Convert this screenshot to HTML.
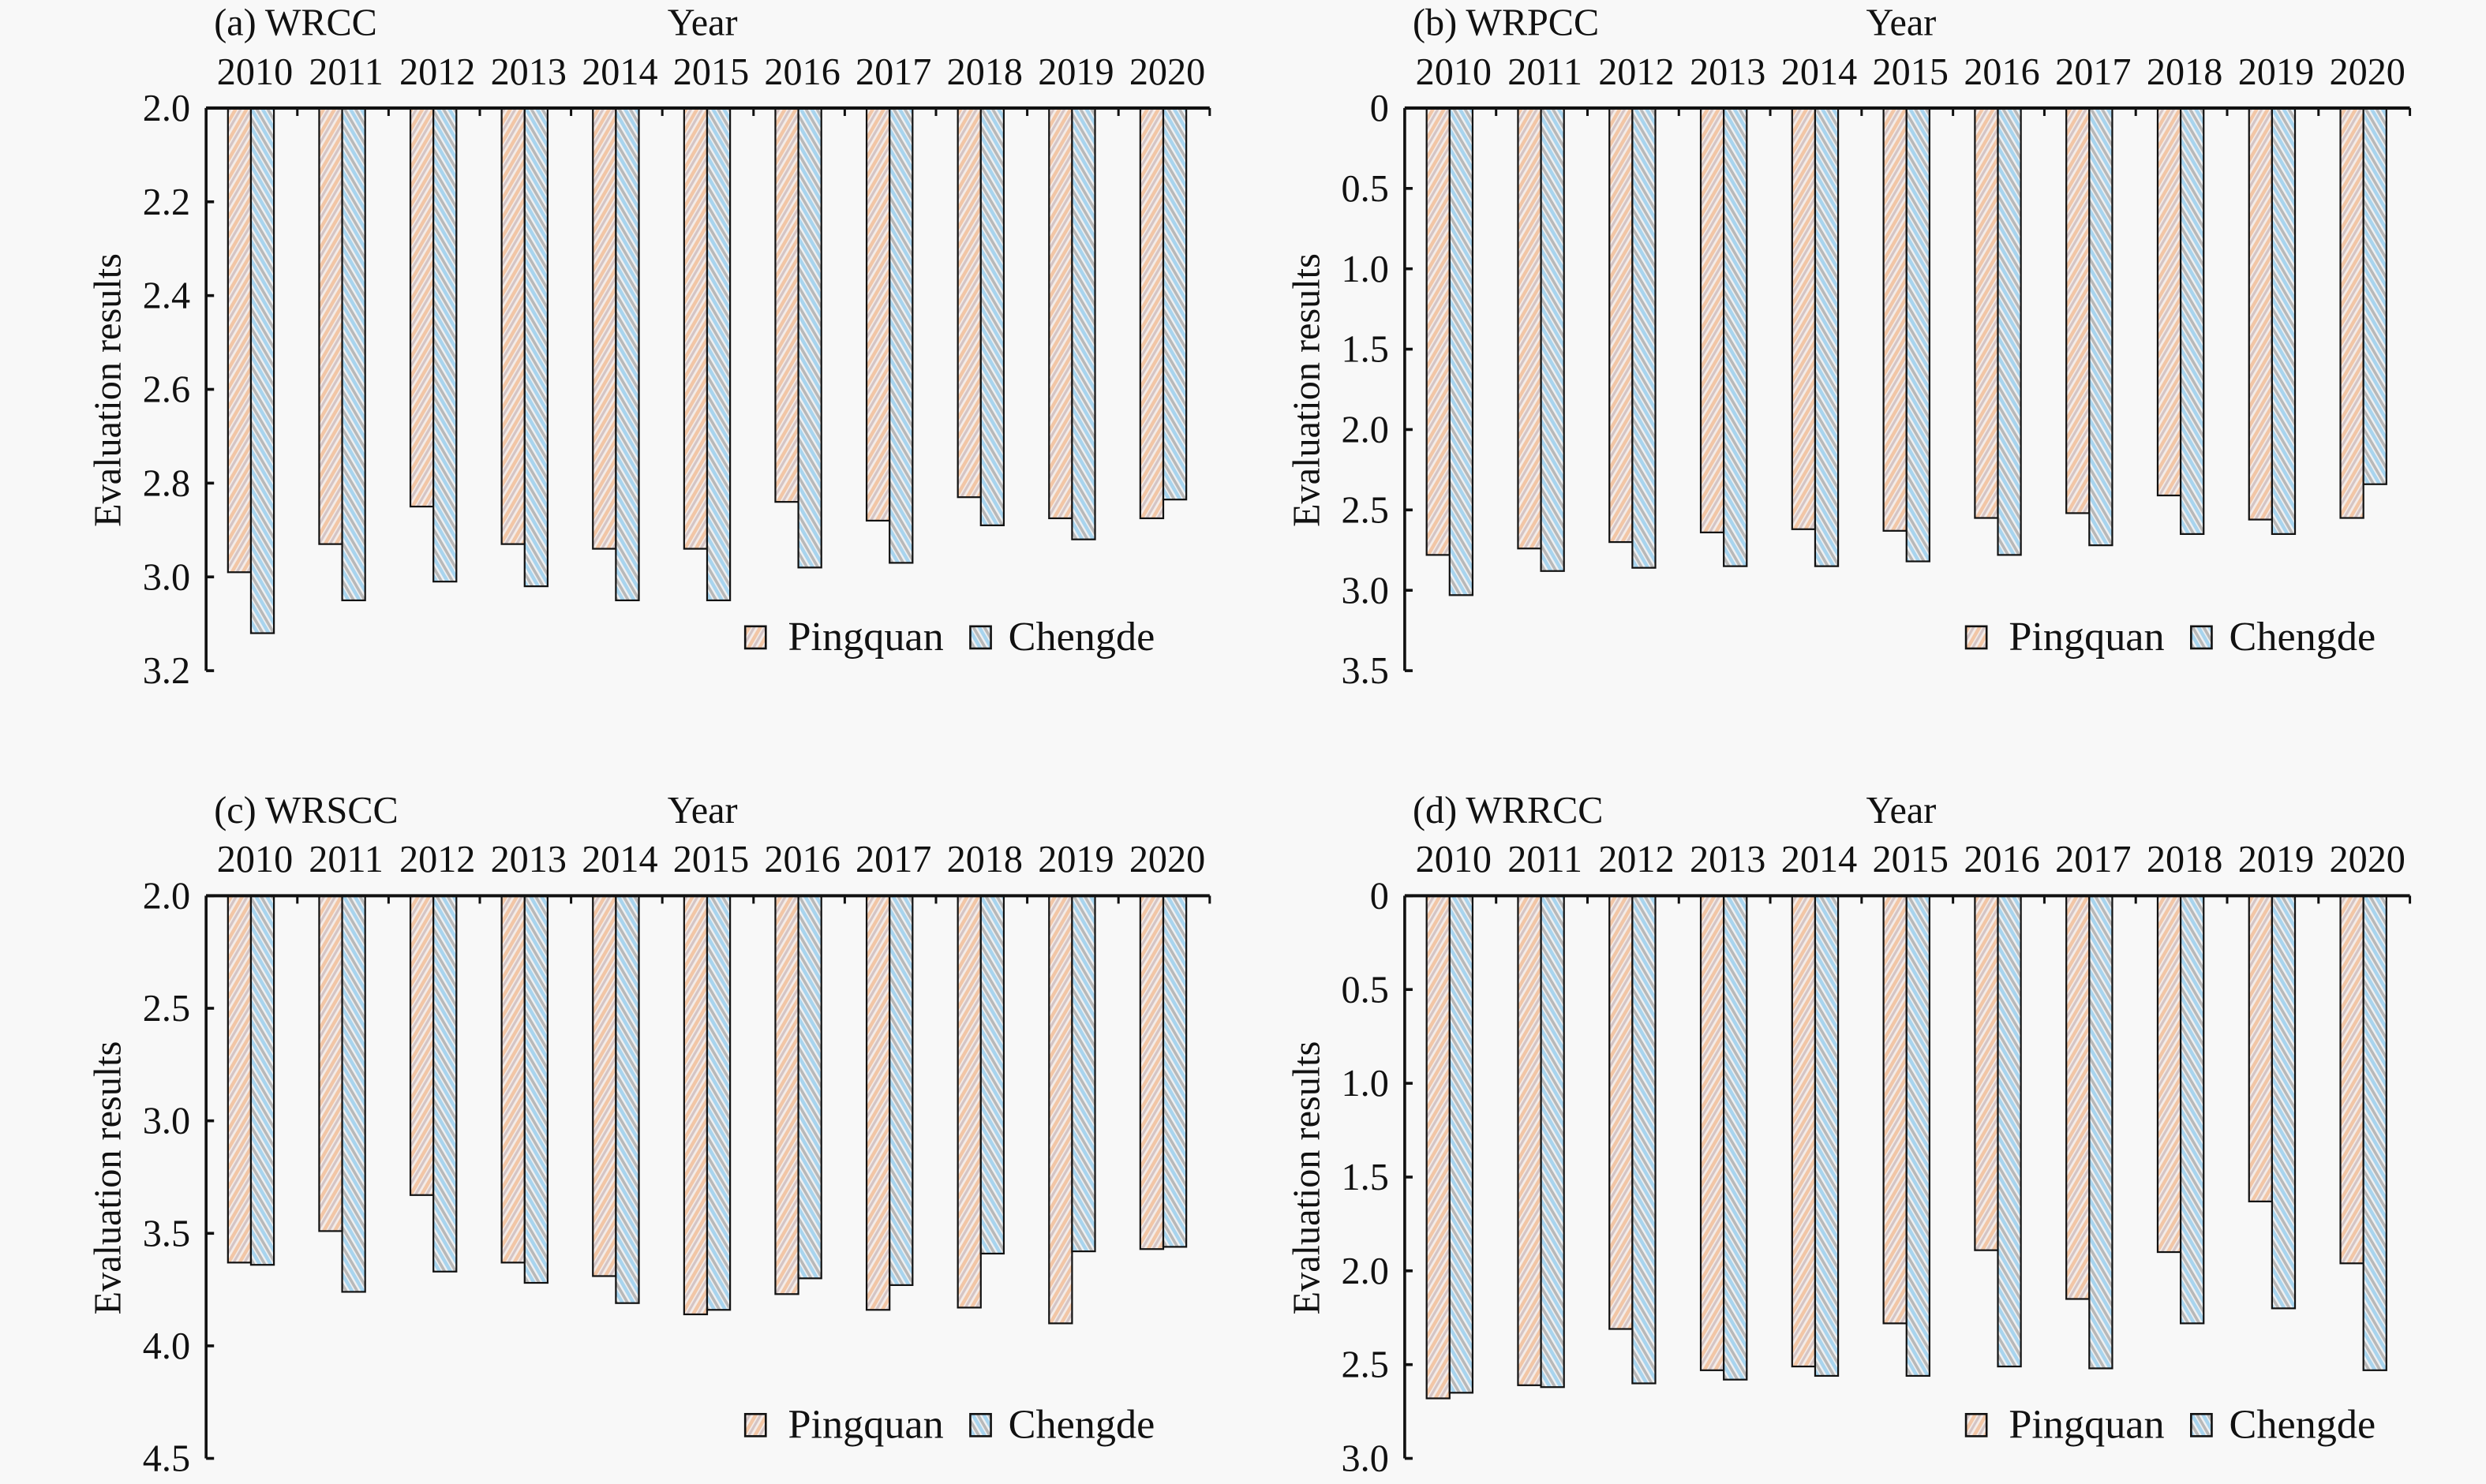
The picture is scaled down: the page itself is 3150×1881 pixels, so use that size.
<!DOCTYPE html>
<html><head><meta charset="utf-8"><style>
html,body{margin:0;padding:0;background:#f8f8f8;}
svg{display:block;}
</style></head><body>
<svg id="s" width="3150" height="1881" viewBox="0 0 1568 936" xmlns="http://www.w3.org/2000/svg" font-family="'Liberation Serif', serif">
<defs>
<pattern id="pP" patternUnits="userSpaceOnUse" width="6" height="6" patternTransform="rotate(30)">
<rect width="6" height="6" fill="#f4ece8"/>
<rect width="2.2" height="6" fill="#f2c6a6"/>
<rect x="3" width="1.6" height="6" fill="#d4c4c4"/>
</pattern>
<pattern id="pC" patternUnits="userSpaceOnUse" width="6" height="6" patternTransform="rotate(-30)">
<rect width="6" height="6" fill="#eef0f2"/>
<rect width="2.2" height="6" fill="#a8d4ee"/>
<rect x="3" width="1.8" height="6" fill="#b8b8b8"/>
</pattern>
</defs>
<g id="g"></g>
</svg>
<script>
const NS="http://www.w3.org/2000/svg";
const g=document.getElementById('g');
function el(t,a,txt){const e=document.createElementNS(NS,t);for(const k in a)e.setAttribute(k,a[k]);if(txt!==undefined){e.textContent=txt;e.setAttribute('font-family',"Liberation Serif, serif");e.setAttribute('fill','#111');}g.appendChild(e);return e;}
const panels=[
 {x0:130,x1:763,y0:68,title:"(a) WRCC",min:2.0,max:3.2,ticks:["2.0","2.2","2.4","2.6","2.8","3.0","3.2"],
  P:[2.99,2.93,2.85,2.93,2.94,2.94,2.84,2.88,2.83,2.875,2.875],C:[3.12,3.05,3.01,3.02,3.05,3.05,2.98,2.97,2.89,2.92,2.835],lx:470},
 {x0:886,x1:1520,y0:68,title:"(b) WRPCC",min:0,max:3.5,ticks:["0","0.5","1.0","1.5","2.0","2.5","3.0","3.5"],
  P:[2.78,2.74,2.70,2.64,2.62,2.63,2.55,2.52,2.41,2.56,2.55],C:[3.03,2.88,2.86,2.85,2.85,2.82,2.78,2.72,2.65,2.65,2.34],lx:1240},
 {x0:130,x1:763,y0:565,title:"(c) WRSCC",min:2.0,max:4.5,ticks:["2.0","2.5","3.0","3.5","4.0","4.5"],
  P:[3.63,3.49,3.33,3.63,3.69,3.86,3.77,3.84,3.83,3.90,3.57],C:[3.64,3.76,3.67,3.72,3.81,3.84,3.70,3.73,3.59,3.58,3.56],lx:470},
 {x0:886,x1:1520,y0:565,title:"(d) WRRCC",min:0,max:3.0,ticks:["0","0.5","1.0","1.5","2.0","2.5","3.0"],
  P:[2.68,2.61,2.31,2.53,2.51,2.28,1.89,2.15,1.90,1.63,1.96],C:[2.65,2.62,2.60,2.58,2.56,2.56,2.51,2.52,2.28,2.20,2.53],lx:1240}
];
panels.forEach(p=>{
 const H=355, gw=(p.x1-p.x0)/11;
 const Y=v=>p.y0+(v-p.min)/(p.max-p.min)*H;
 for(let i=0;i<11;i++){
  const c=p.x0+gw*(i+0.5);
  el('rect',{x:c-15,y:p.y0,width:14.5,height:Y(p.P[i])-p.y0,fill:'url(#pP)',stroke:'#111','stroke-width':1.1});
  el('rect',{x:c-0.5,y:p.y0,width:14.5,height:Y(p.C[i])-p.y0,fill:'url(#pC)',stroke:'#111','stroke-width':1.1});
  el('text',{x:c+2,y:p.y0-15,'font-size':24,'text-anchor':'middle'},String(2010+i));
  el('line',{x1:p.x0+gw*(i+1),y1:p.y0,x2:p.x0+gw*(i+1),y2:p.y0+5,stroke:'#111','stroke-width':1.5});
 }
 el('line',{x1:p.x0,y1:p.y0,x2:p.x1,y2:p.y0,stroke:'#111','stroke-width':2});
 el('line',{x1:p.x0,y1:p.y0,x2:p.x0,y2:p.y0+H,stroke:'#111','stroke-width':1.8});
 p.ticks.forEach((t,k)=>{
  const y=p.y0+k*H/(p.ticks.length-1);
  el('line',{x1:p.x0,y1:y,x2:p.x0+5,y2:y,stroke:'#111','stroke-width':1.8});
  el('text',{x:p.x0-10,y:y+8,'font-size':24,'text-anchor':'end'},t);
 });
 el('text',{x:p.x0+5,y:p.y0-46,'font-size':24},p.title);
 el('text',{x:p.x0+291,y:p.y0-46,'font-size':24},"Year");
 const yc=p.y0+178, xt=p.x0-62;
 el('text',{x:xt,y:yc,'font-size':24,'text-anchor':'middle',transform:`rotate(-90 ${xt} ${yc})`,dy:8},"Evaluation results");
 const ly=p.y0+327;
 el('rect',{x:p.lx,y:ly,width:13,height:14,fill:'url(#pP)',stroke:'#111','stroke-width':1.3});
 el('text',{x:p.lx+27,y:ly+15,'font-size':26},"Pingquan");
 el('rect',{x:p.lx+142,y:ly,width:13,height:14,fill:'url(#pC)',stroke:'#111','stroke-width':1.3});
 el('text',{x:p.lx+166,y:ly+15,'font-size':26},"Chengde");
});
</script>
</body></html>
